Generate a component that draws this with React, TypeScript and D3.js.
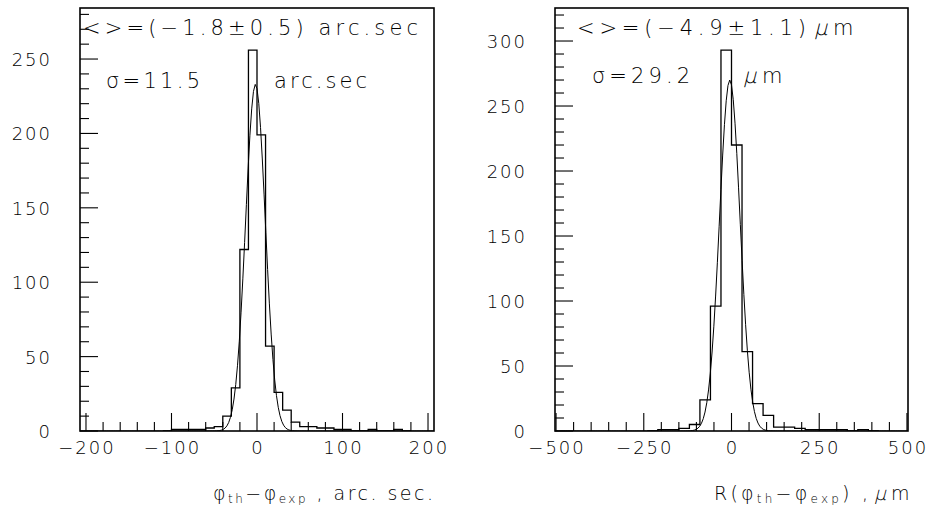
import React from "react";
import * as d3 from "d3";

// ---------- data ----------
const leftBinLow = [-110, -100, -90, -80, -70, -60, -50, -40, -30, -20, -10, 0, 10, 20, 30, 40, 50, 60, 70, 80, 90, 100, 110, 120, 130, 140, 150, 160, 170];
const leftCounts = [0, 1, 1, 1, 1, 2, 3, 10, 29, 122, 256, 199, 57, 26, 14, 6, 3, 3, 2, 2, 1, 1, 0, 0, 1, 0, 0, 1, 0];
const leftBinWidth = 10;
const leftFit = { mean: -1.8, sigma: 11.5, amp: 233 };

const rightBinLow = [-240, -210, -180, -150, -120, -90, -60, -30, 0, 30, 60, 90, 120, 150, 180, 210, 240, 270, 300, 330, 360, 390];
const rightCounts = [0, 1, 1, 2, 5, 24, 96, 293, 220, 61, 21, 12, 3, 3, 2, 1, 1, 1, 1, 0, 1, 0];
const rightBinWidth = 30;
const rightFit = { mean: -4.9, sigma: 29.2, amp: 270 };

const leftXTicks = [-200, -100, 0, 100, 200];
const leftYTicks = [0, 50, 100, 150, 200, 250];
const rightXTicks = [-500, -250, 0, 250, 500];
const rightYTicks = [0, 50, 100, 150, 200, 250, 300];

const FONT = "'DejaVu Sans', 'Liberation Sans', sans-serif";
const W = 936;
const H = 507;

type PanelProps = {
  xDomain: [number, number];
  yDomain: [number, number];
  left: number;
  right: number;
  top: number;
  bottom: number;
  xTicks: number[];
  xMinorStep: number;
  yTicks: number[];
  yMinorStep: number;
  binLow: number[];
  counts: number[];
  binWidth: number;
  fit: { mean: number; sigma: number; amp: number };
  xLabel: (v: number) => string;
};

function Panel(p: PanelProps) {
  const x = d3.scaleLinear().domain(p.xDomain).range([p.left, p.right]);
  const y = d3.scaleLinear().domain(p.yDomain).range([p.bottom, p.top]);

  const hp = d3.path();
  hp.moveTo(x(p.binLow[0]), y(0));
  p.binLow.forEach((lo, i) => {
    hp.lineTo(x(lo), y(p.counts[i]));
    hp.lineTo(x(lo + p.binWidth), y(p.counts[i]));
  });
  hp.lineTo(x(p.binLow[p.binLow.length - 1] + p.binWidth), y(0));

  // fitted gaussian drawn from the displayed fit parameters
  const xs = d3.range(0, 201).map((i) => p.xDomain[0] + ((p.xDomain[1] - p.xDomain[0]) * i) / 200);
  const line = d3
    .line<number>()
    .x((v) => x(v))
    .y((v) => y(p.fit.amp * Math.exp(-0.5 * ((v - p.fit.mean) / p.fit.sigma) ** 2)));

  const xMinor = d3
    .range(Math.ceil(p.xDomain[0] / p.xMinorStep) * p.xMinorStep, p.xDomain[1] + 1e-6, p.xMinorStep)
    .filter((v) => !p.xTicks.some((t) => Math.abs(t - v) < 1e-6));
  const yMinor = d3
    .range(p.yMinorStep, p.yDomain[1], p.yMinorStep)
    .filter((v) => !p.yTicks.some((t) => Math.abs(t - v) < 1e-6));

  const clipId = `clip${p.left}`;
  return (
    <g>
      <defs>
        <clipPath id={clipId}>
          <rect x={p.left} y={p.top} width={p.right - p.left} height={p.bottom - p.top} />
        </clipPath>
      </defs>
      {p.xTicks.map((t) => (
        <line key={"xm" + t} x1={x(t)} x2={x(t)} y1={p.bottom} y2={p.bottom - 18} stroke="#000" strokeWidth={1.1} />
      ))}
      {xMinor.map((t) => (
        <line key={"xn" + t} x1={x(t)} x2={x(t)} y1={p.bottom} y2={p.bottom - 9} stroke="#000" strokeWidth={1.1} />
      ))}
      {p.yTicks.map((t) => (
        <line key={"ym" + t} x1={p.left} x2={p.left + 18} y1={y(t)} y2={y(t)} stroke="#000" strokeWidth={1.1} />
      ))}
      {yMinor.map((t) => (
        <line key={"yn" + t} x1={p.left} x2={p.left + 9} y1={y(t)} y2={y(t)} stroke="#000" strokeWidth={1.1} />
      ))}
      <g clipPath={`url(#${clipId})`}>
        <path d={line(xs) || ""} fill="none" stroke="#000" strokeWidth={1} />
        <path d={hp.toString()} fill="none" stroke="#000" strokeWidth={1.3} />
      </g>
      <rect x={p.left} y={p.top} width={p.right - p.left} height={p.bottom - p.top} fill="none" stroke="#000" strokeWidth={1.6} />
      {p.xTicks.map((t) => (
        <text key={"xl" + t} x={x(t) + 1} y={454} textAnchor="middle" fontFamily={FONT} fontWeight={200} fontSize={18} letterSpacing={2}>
          {p.xLabel(t)}
        </text>
      ))}
      {p.yTicks.map((t) => (
        <text key={"yl" + t} x={p.left - 28} y={y(t) + 7} textAnchor="end" fontFamily={FONT} fontWeight={200} fontSize={18} letterSpacing={2}>
          {String(t)}
        </text>
      ))}
    </g>
  );
}

const fmt = (v: number) => (v < 0 ? "\u2212" + Math.abs(v) : String(v));

function Slanted({ x, y, size, children }: { x: number; y: number; size: number; children: React.ReactNode }) {
  return (
    <text transform={`translate(${x},${y}) skewX(-14)`} fontFamily={FONT} fontWeight={200} fontSize={size}>
      {children}
    </text>
  );
}

export default function App() {
  const txt = { fontFamily: FONT, fontWeight: 200, fontSize: 21 } as const;
  return (
    <svg width={W} height={H} style={{ position: "absolute", left: 0, top: 0, background: "#fff" }}>
      <rect x={0} y={0} width={W} height={H} fill="#fff" />
      <Panel
        xDomain={[-207, 207]}
        yDomain={[0, 284.3]}
        left={80}
        right={434}
        top={8}
        bottom={431}
        xTicks={leftXTicks}
        xMinorStep={20}
        yTicks={leftYTicks}
        yMinorStep={10}
        binLow={leftBinLow}
        counts={leftCounts}
        binWidth={leftBinWidth}
        fit={leftFit}
        xLabel={fmt}
      />
      <Panel
        xDomain={[-503, 503]}
        yDomain={[0, 325.4]}
        left={555}
        right={908}
        top={8}
        bottom={431}
        xTicks={rightXTicks}
        xMinorStep={50}
        yTicks={rightYTicks}
        yMinorStep={10}
        binLow={rightBinLow}
        counts={rightCounts}
        binWidth={rightBinWidth}
        fit={rightFit}
        xLabel={fmt}
      />
      {/* left annotations */}
      <text x={83} y={35} textLength={335} lengthAdjust="spacing" {...txt}>
        {"<>=(\u22121.8\u00b10.5) arc.sec"}
      </text>
      <text x={106} y={88} textLength={94} lengthAdjust="spacing" {...txt}>
        {"\u03c3=11.5"}
      </text>
      <text x={274} y={88} textLength={93} lengthAdjust="spacing" {...txt}>
        arc.sec
      </text>
      {/* right annotations */}
      <text x={577} y={35} textLength={229} lengthAdjust="spacing" {...txt}>
        {"<>=(\u22124.9\u00b11.1)"}
      </text>
      <Slanted x={814} y={35} size={21}>{"\u03bc"}</Slanted>
      <text x={833} y={35} {...txt}>m</text>
      <text x={592} y={83} textLength={98} lengthAdjust="spacing" {...txt}>
        {"\u03c3=29.2"}
      </text>
      <Slanted x={743} y={83} size={21}>{"\u03bc"}</Slanted>
      <text x={762} y={83} {...txt}>m</text>
      {/* axis titles */}
      <text x={213} y={500} textLength={220} lengthAdjust="spacing" fontFamily={FONT} fontWeight={200} fontSize={19}>
        {"\u03c6"}
        <tspan fontSize={12} dy={3}>th</tspan>
        <tspan dy={-3}>{"\u2212\u03c6"}</tspan>
        <tspan fontSize={12} dy={3}>exp</tspan>
        <tspan dy={-3}>{" , arc. sec."}</tspan>
      </text>
      <text x={714} y={500} textLength={154} lengthAdjust="spacing" fontFamily={FONT} fontWeight={200} fontSize={19}>
        {"R(\u03c6"}
        <tspan fontSize={12} dy={3}>th</tspan>
        <tspan dy={-3}>{"\u2212\u03c6"}</tspan>
        <tspan fontSize={12} dy={3}>exp</tspan>
        <tspan dy={-3}>{") ,"}</tspan>
      </text>
      <Slanted x={874} y={500} size={19}>{"\u03bc"}</Slanted>
      <text x={891} y={500} fontFamily={FONT} fontWeight={200} fontSize={19}>m</text>
    </svg>
  );
}
